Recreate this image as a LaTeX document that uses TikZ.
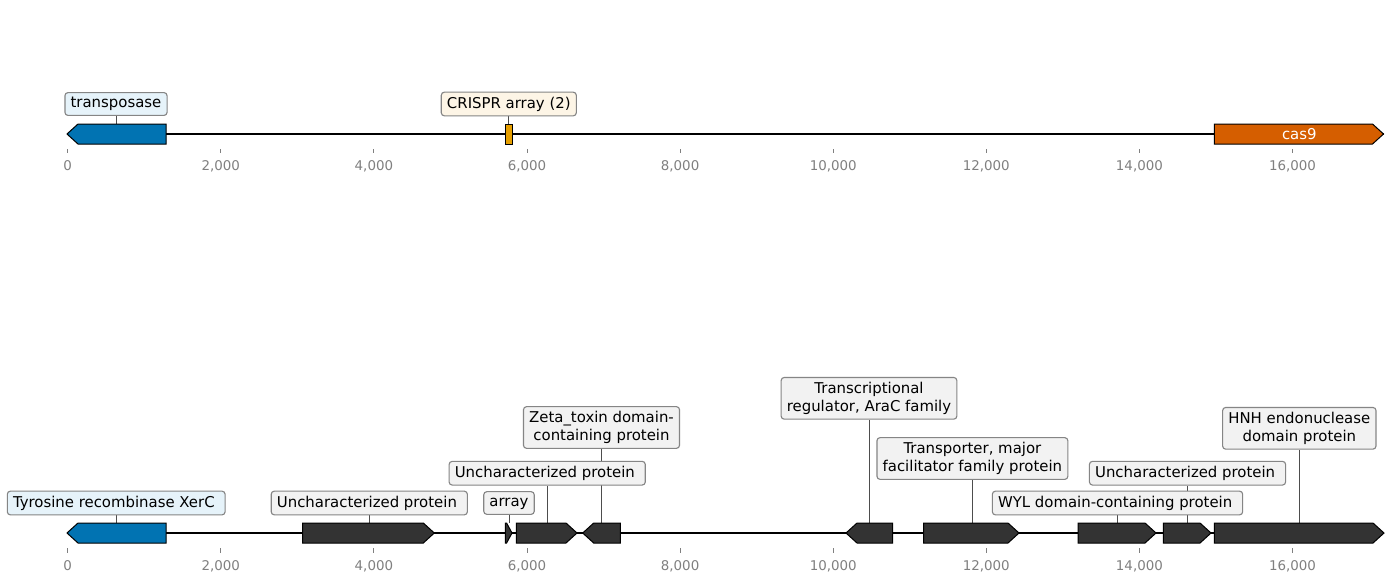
\documentclass[tikz,border=0pt]{standalone}
\usepackage{fontspec}
\setmainfont{DejaVu Sans}
\usetikzlibrary{backgrounds}
\definecolor{fblue}{HTML}{0173B2}
\definecolor{fdark}{HTML}{333333}
\definecolor{fverm}{HTML}{D55E00}
\definecolor{forange}{HTML}{E69F00}
\definecolor{lblue}{HTML}{E6F3FA}
\definecolor{lorange}{HTML}{FDF5E6}
\definecolor{lgray}{HTML}{F2F2F2}
\definecolor{lborder}{HTML}{858585}
\definecolor{conncol}{HTML}{4D4D4D}
\definecolor{tickcol}{HTML}{808080}
\newcommand\lst{\rule[-1.6pt]{0pt}{9pt}}
\newcommand\tsp{\rule{0.318em}{0pt}}
\newcommand\gfwd[4]{\filldraw[feat,fill=#4] (#1,{#3-10}) -- ({#2-11},{#3-10}) -- (#2,#3) -- ({#2-11},{#3+10}) -- (#1,{#3+10}) -- cycle;}
\newcommand\grev[4]{\filldraw[feat,fill=#4] (#2,{#3-10}) -- ({#1+11},{#3-10}) -- (#1,#3) -- ({#1+11},{#3+10}) -- (#2,{#3+10}) -- cycle;}
\tikzset{
  feat/.style={draw=black, line width=0.72pt, line join=miter},
  lab/.style={draw=lborder, line width=0.8pt, rounded corners=2.2pt, fill=lgray, inner xsep=4.1pt, inner ysep=3.34pt, align=center, font=\fontsize{10.73}{12.96}\selectfont},
  conn/.style={draw=conncol, line width=0.6pt},
  backbone/.style={line width=1.44pt, draw=black},
  ticklab/.style={text=tickcol, font=\fontsize{9.65}{11}\selectfont, anchor=base, inner sep=0pt},
  tickmark/.style={draw=tickcol, line width=0.6pt}
}
\begin{document}
\begin{tikzpicture}[x=0.72pt,y=-0.72pt]
\useasboundingbox (0,0) rectangle (1394,582);
% ---------- top track features ----------
\grev{67}{166}{134}{fblue}
\filldraw[feat,fill=forange] (505.3,124) rectangle (512,144);
\gfwd{1214.3}{1383.5}{134}{fverm}
\node[text=white, font=\fontsize{10.73}{12.96}\selectfont, anchor=base, inner sep=0pt] (cas9txt) at (1299.3,139.4) {cas9};
% ---------- bottom track features ----------
\grev{67}{166}{533}{fblue}
\gfwd{302.7}{434.3}{533}{fdark}
\filldraw[feat,fill=fdark] (505.3,523) -- (506.6,523) -- (512,533) -- (506.6,543) -- (505.3,543) -- cycle;
\gfwd{516.3}{577}{533}{fdark}
\grev{582.7}{620.3}{533}{fdark}
\grev{846}{892.7}{533}{fdark}
\gfwd{923.7}{1019}{533}{fdark}
\gfwd{1078}{1156}{533}{fdark}
\gfwd{1163.3}{1211}{533}{fdark}
\gfwd{1214.3}{1384}{533}{fdark}
% ---------- feature anchor points ----------
\coordinate (fTra) at (116,124);
\coordinate (fCri) at (508.8,124);
\coordinate (fXer) at (116.2,523);
\coordinate (fUn1) at (369.3,523);
\coordinate (fArr) at (509,523);
\coordinate (fUn2) at (547.2,523);
\coordinate (fZet) at (601.5,523);
\coordinate (fAra) at (869,523);
\coordinate (fTrp) at (972.4,523);
\coordinate (fWyl) at (1117.5,523);
\coordinate (fUn3) at (1187.5,523);
\coordinate (fHnh) at (1299.3,523);
% ---------- labels ----------
\node[lab,fill=lblue] (lTra) at (116,104) {\lst transposase};
\node[lab,fill=lorange] (lCri) at (508.8,104) {\lst CRISPR array (2)};
\node[lab,fill=lblue] (lXer) at (116.2,503) {\lst Tyrosine recombinase XerC\tsp};
\node[lab] (lUn1) at (369.3,503) {\lst Uncharacterized protein\tsp};
\node[lab] (lArr) at (509,503) {\lst array};
\node[lab] (lUn2) at (547.2,473.2) {\lst Uncharacterized protein\tsp};
\node[lab] (lZet) at (601.5,427.5) {\lst Zeta\_toxin domain-\\\lst containing protein};
\node[lab] (lAra) at (869,398.3) {\lst Transcriptional\\\lst regulator, AraC family};
\node[lab] (lTrp) at (972.4,458.5) {\lst Transporter, major\\\lst facilitator family protein};
\node[lab] (lWyl) at (1117.5,503) {\lst WYL domain-containing protein\tsp};
\node[lab] (lUn3) at (1187.5,473.2) {\lst Uncharacterized protein\tsp};
\node[lab] (lHnh) at (1299.3,428.3) {\lst HNH endonuclease\\\lst domain protein};
% ---------- ticks ----------
\foreach \k/\t in {0/0,1/{2,000},2/{4,000},3/{6,000},4/{8,000},5/{10,000},6/{12,000},7/{14,000},8/{16,000}}{
  \pgfmathsetmacro\tx{67.7+153.1*\k}
  \draw[tickmark] (\tx,149.3) -- (\tx,153.3);
  \node[ticklab] (ta\k) at (\tx,170.7) {\t};
  \draw[tickmark] (\tx,548.3) -- (\tx,552.7);
  \node[ticklab] (tb\k) at (\tx,570.3) {\t};
}
% ---------- background: backbone and connectors ----------
\begin{scope}[on background layer]
  \fill[white] (0,0) rectangle (1394,582);
  \draw[backbone] (67,134) -- (1383.5,134);
  \draw[backbone] (67,533) -- (1384,533);
  \foreach \n in {Tra,Cri,Xer,Un1,Arr,Un2,Zet,Ara,Trp,Wyl,Un3,Hnh}{
    \draw[conn] (l\n.south) -- (f\n);
  }
\end{scope}
\end{tikzpicture}
\end{document}
